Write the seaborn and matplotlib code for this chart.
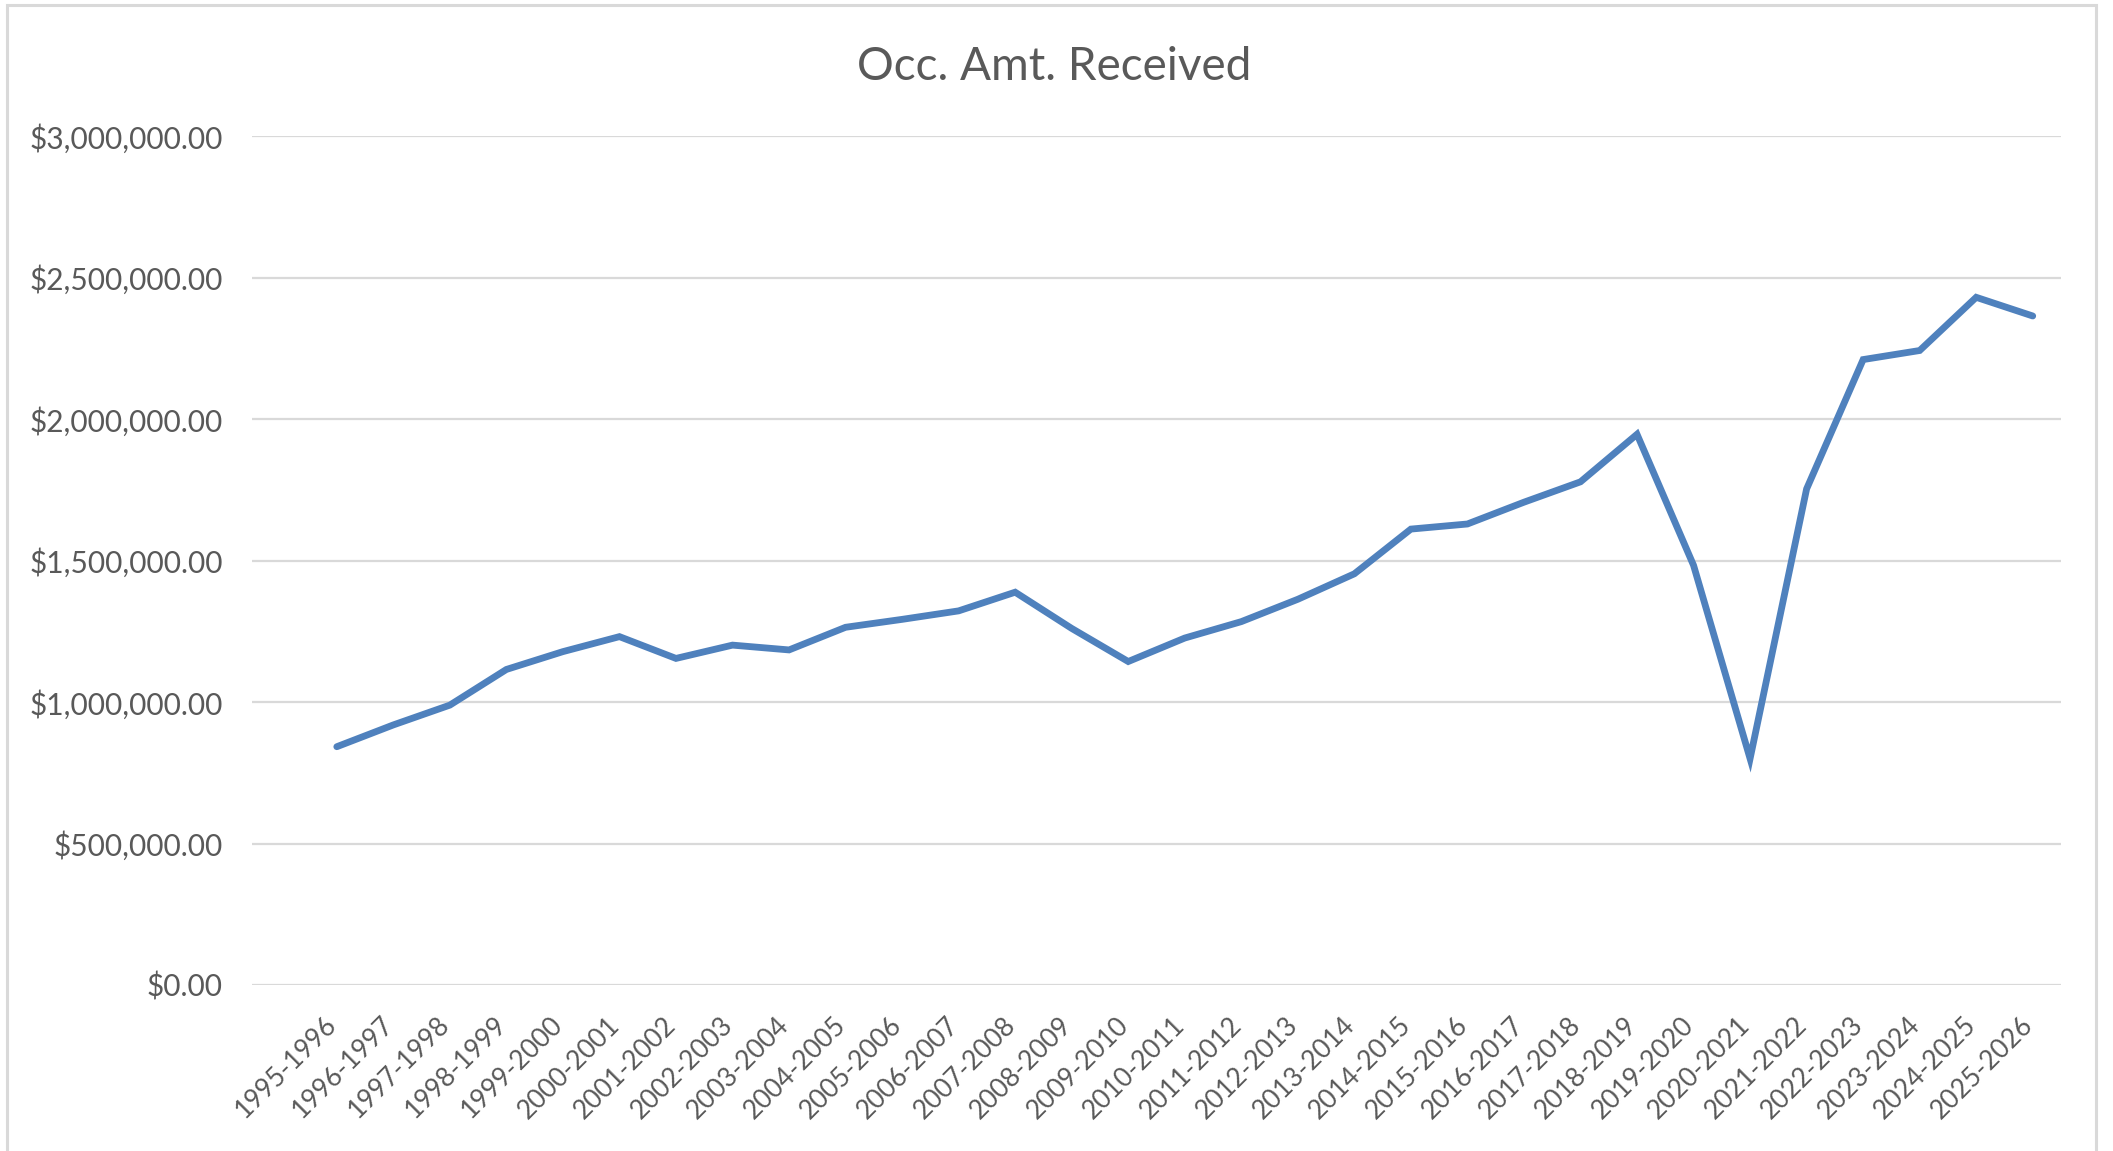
import matplotlib
matplotlib.use("Agg")
import matplotlib.pyplot as plt
import matplotlib.ticker as mticker
import matplotlib.transforms as mtransforms
from matplotlib.patches import Rectangle
import seaborn as sns
import pandas as pd

# ---- data ----
categories = ["1995-1996", "1996-1997", "1997-1998", "1998-1999", "1999-2000",
              "2000-2001", "2001-2002", "2002-2003", "2003-2004", "2004-2005",
              "2005-2006", "2006-2007", "2007-2008", "2008-2009", "2009-2010",
              "2010-2011", "2011-2012", "2012-2013", "2013-2014", "2014-2015",
              "2015-2016", "2016-2017", "2017-2018", "2018-2019", "2019-2020",
              "2020-2021", "2021-2022", "2022-2023", "2023-2024", "2024-2025",
              "2025-2026"]
amounts = [842000, 919000, 989000, 1115000, 1178000,
           1231000, 1154000, 1201000, 1184000, 1264000,
           1292000, 1322000, 1388000, 1260000, 1143000,
           1226000, 1284000, 1363000, 1453000, 1611000,
           1629000, 1706000, 1778000, 1946000, 1483000,
           800000, 1753000, 2210000, 2242000, 2430000,
           2364000]
title_text = "Occ. Amt. Received"
y_ticks = [0, 500000, 1000000, 1500000, 2000000, 2500000, 3000000]

df = pd.DataFrame({"Year": categories, "Amount": amounts})

sns.set_theme(style="white")
plt.rcParams["font.family"] = ["Lato", "DejaVu Sans"]

W, H = 2113, 1151
fig = plt.figure(figsize=(W / 100, H / 100), dpi=100)
fig.patch.set_facecolor("white")

ax = fig.add_axes([252 / W, 1 - 985 / H, (2061 - 252) / W, (985 - 136) / H])

sns.lineplot(data=df, x="Year", y="Amount", ax=ax, color="#4F81BD",
             linewidth=4.9, sort=False, solid_joinstyle="miter", solid_capstyle="round")

ax.set_xlim(-1.5, len(categories) - 0.5)
ax.set_ylim(0, 3000000)
ax.set_yticks(y_ticks)
ax.yaxis.set_major_formatter(mticker.FuncFormatter(lambda v, p: "${:,.2f}".format(v)))
ax.grid(axis="y", color="#D9D9D9", linewidth=1.6)
ax.grid(axis="x", visible=False)
ax.set_axisbelow(True)
for s in ax.spines.values():
    s.set_visible(False)
ax.set_xlabel("")
ax.set_ylabel("")
ax.tick_params(axis="both", length=0, colors="#595959")
ax.tick_params(axis="y", labelsize=21.5, pad=21)
ax.tick_params(axis="x", labelsize=19, pad=19.5)
shift = mtransforms.ScaledTranslation(5 / 100, 0, fig.dpi_scale_trans)
for lab in ax.get_xticklabels():
    lab.set_rotation(45)
    lab.set_ha("right")
    lab.set_transform(lab.get_transform() + shift)

fig.text(1054 / W, 1 - 67 / H, title_text, ha="center", va="center",
         fontsize=33, color="#595959")

# chart-area border
fig.patches.append(Rectangle((7 / W, -0.05), (2096 - 7) / W, 1 - 5 / H + 0.05,
                             transform=fig.transFigure, fill=False,
                             edgecolor="#D9D9D9", linewidth=2.2))

fig.savefig("out.png", dpi=100, facecolor="white")
